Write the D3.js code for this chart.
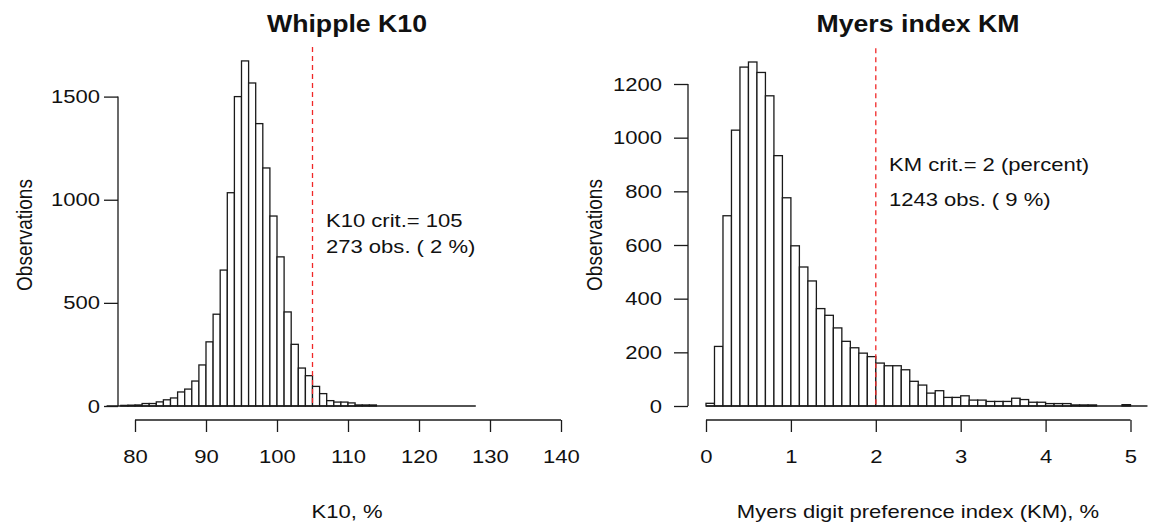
<!DOCTYPE html>
<html>
<head>
<meta charset="utf-8">
<script src="https://cdn.jsdelivr.net/npm/d3@7"></script>
<style>
  body { margin: 0; background: #fff; }
  svg { display: block; font-family: "Liberation Sans", Arial, sans-serif; }
</style>
</head>
<body>
<div id="chart"></div>
<script>
// Whipple K10 : 1-unit bins, lower edges 76 .. 127
var k10Breaks = d3.range(76, 128, 1);
var k10Counts = [0, 0, 3, 4, 5, 12, 12, 20, 30, 39, 68, 82, 121, 199, 311, 445, 659, 1034,
                 1500, 1673, 1566, 1369, 1154, 921, 723, 456, 299, 184, 147, 95, 60, 26, 19, 19,
                 15, 5, 5, 5, 0, 0, 0, 0, 0, 0, 0, 0, 0, 0, 0, 0, 0, 0];
var k10Ticks = [80, 90, 100, 110, 120, 130, 140];
var k10YTicks = [0, 500, 1000, 1500];
var k10Crit = 105;

// Myers index KM : 0.1 bins, lower edges 0.0 .. 5.1
var kmBreaks = d3.range(0, 52).map(function(i) { return i / 10; });
var kmCounts = [10, 222, 709, 1028, 1263, 1282, 1243, 1156, 933, 776, 597, 518, 466, 363, 338,
                291, 241, 217, 197, 184, 160, 150, 150, 135, 92, 78, 48, 57, 32, 32, 38, 22, 22,
                17, 17, 17, 29, 24, 14, 14, 9, 9, 9, 4, 4, 4, 0, 0, 0, 5, 0, 0];
var kmTicks = [0, 1, 2, 3, 4, 5];
var kmYTicks = [0, 200, 400, 600, 800, 1000, 1200];
var kmCrit = 2;

var width = 1153, height = 526;
var sx = 1.16;   // the picture is stretched sideways a bit

var svg = d3.select("#chart").append("svg")
  .attr("width", width)
  .attr("height", height);

function txt(g, x, y, s, opts) {
  opts = opts || {};
  return g.append("text")
    .attr("transform", "translate(" + x + "," + y + ") scale(" + sx + ",1)" + (opts.rot ? " rotate(-90)" : ""))
    .attr("text-anchor", opts.anchor || "start")
    .attr("font-size", opts.size || 19)
    .attr("font-weight", opts.bold ? "bold" : "normal")
    .attr("fill", "#111")
    .text(s);
}

function histPanel(p) {
  var g = svg.append("g");
  var x = d3.scaleLinear().domain(p.xDomain).range(p.xRange);
  var y = d3.scaleLinear().domain(p.yDomain).range([406, p.yTop]);

  // bars
  g.selectAll("rect.bar")
    .data(p.breaks.map(function(b, i) { return { b: b, n: p.counts[i] }; }).filter(function(d) { return d.n > 0; }))
    .enter().append("rect")
      .attr("class", "bar")
      .attr("x", function(d) { return x(d.b); })
      .attr("y", function(d) { return y(d.n); })
      .attr("width", function(d) { return x(d.b + p.binW) - x(d.b); })
      .attr("height", function(d) { return y(0) - y(d.n); })
      .attr("fill", "#fff")
      .attr("stroke", "#1a1a1a")
      .attr("stroke-width", 1.3);

  // baseline of the zero-height bins
  g.append("line")
    .attr("x1", x(p.breaks[0])).attr("x2", x(p.breaks[p.breaks.length - 1] + p.binW))
    .attr("y1", y(0)).attr("y2", y(0))
    .attr("stroke", "#1a1a1a").attr("stroke-width", 1.3);

  // critical value
  var ymax = d3.max(p.counts) * 1.04;
  g.append("line")
    .attr("x1", x(p.crit)).attr("x2", x(p.crit))
    .attr("y1", y(ymax)).attr("y2", y(0))
    .attr("stroke", "#f02828").attr("stroke-width", 1.3)
    .attr("stroke-dasharray", "5,4");

  // x axis
  var xAxis = g.append("g")
    .attr("transform", "translate(0,420)")
    .call(d3.axisBottom(x).tickValues(p.xTicks).tickFormat(d3.format("d"))
      .tickSize(12).tickPadding(18).tickSizeOuter(0));
  xAxis.select(".domain").attr("stroke", "#1a1a1a").attr("stroke-width", 1.3)
    .attr("d", "M" + x(p.xTicks[0]) + ",0H" + x(p.xTicks[p.xTicks.length - 1]));
  xAxis.selectAll(".tick line").attr("stroke", "#1a1a1a").attr("stroke-width", 1.3);
  xAxis.selectAll(".tick text")
    .attr("font-size", 19).attr("font-family", "Liberation Sans, Arial, sans-serif")
    .attr("fill", "#111").attr("transform", "scale(" + sx + ",1)");

  // y axis
  var yAxis = g.append("g")
    .attr("transform", "translate(" + p.yAxisX + ",0)")
    .call(d3.axisLeft(y).tickValues(p.yTicks).tickFormat(d3.format("d"))
      .tickSize(14).tickSizeOuter(0));
  yAxis.select(".domain").attr("stroke", "#1a1a1a").attr("stroke-width", 1.3)
    .attr("d", "M0," + y(p.yTicks[0]) + "V" + y(p.yTicks[p.yTicks.length - 1]));
  yAxis.selectAll(".tick line").attr("stroke", "#1a1a1a").attr("stroke-width", 1.3);
  yAxis.selectAll(".tick text")
    .attr("font-size", 19).attr("font-family", "Liberation Sans, Arial, sans-serif")
    .attr("fill", "#111")
    .attr("x", -p.labelGap / sx)
    .attr("transform", "scale(" + sx + ",1)");

  // titles and labels
  txt(g, p.center, 31.5, p.title, { anchor: "middle", size: 23, bold: true });
  txt(g, p.center, 518, p.xLabel, { anchor: "middle" });
  txt(g, p.yLabelX, 235, "Observations", { anchor: "middle", rot: true });
  p.notes.forEach(function(n) { txt(g, n[0], n[1], n[2]); });
}

histPanel({
  breaks: k10Breaks, counts: k10Counts, binW: 1,
  xDomain: [80, 140], xRange: [135, 561], xTicks: k10Ticks,
  yDomain: [0, 1500], yTop: 96.6, yTicks: k10YTicks,
  yAxisX: 118, labelGap: 18, crit: k10Crit,
  center: 347, yLabelX: 32,
  title: "Whipple K10", xLabel: "K10, %",
  notes: [[326, 227, "K10 crit.= 105"], [326, 253, "273 obs. ( 2 %)"]]
});

histPanel({
  breaks: kmBreaks, counts: kmCounts, binW: 0.1,
  xDomain: [0, 5], xRange: [706, 1130.5], xTicks: kmTicks,
  yDomain: [0, 1200], yTop: 84, yTicks: kmYTicks,
  yAxisX: 688, labelGap: 26, crit: kmCrit,
  center: 918, yLabelX: 602,
  title: "Myers index KM", xLabel: "Myers digit preference index (KM), %",
  notes: [[889, 170.5, "KM crit.= 2 (percent)"], [889, 205.5, "1243 obs. ( 9 %)"]]
});
</script>
</body>
</html>
